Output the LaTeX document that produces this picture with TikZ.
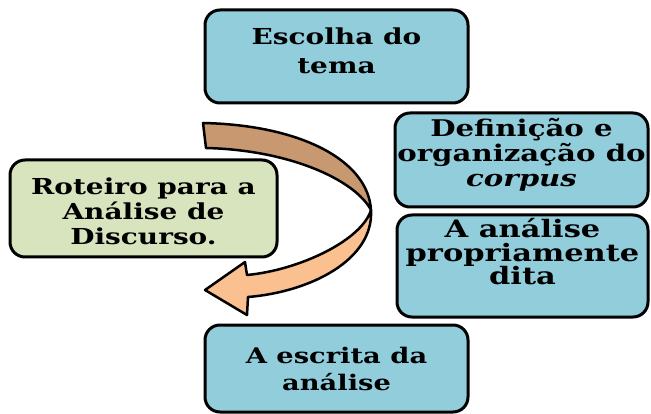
\documentclass[tikz,border=0pt]{standalone}
\usepackage{fontspec}
\setmainfont{DejaVu Serif}[FakeStretch=1.27]
\usetikzlibrary{positioning}
\definecolor{boxblue}{RGB}{146,205,220}
\definecolor{boxgreen}{RGB}{215,228,189}
\definecolor{arrowdark}{RGB}{200,152,112}
\definecolor{arrowlight}{RGB}{250,192,144}
\tikzset{
  box/.style   = {draw=black, line width=3pt, rounded corners=15pt, fill=boxblue, inner sep=0pt},
  gbox/.style  = {box, fill=boxgreen},
  txt/.style   = {align=center, font=\bfseries\fontsize{22}{25}\selectfont, inner sep=0pt},
  band/.style  = {draw=black, line width=2.5pt, line join=round},
}

\begin{document}
\begin{tikzpicture}[x=1pt, y=-1pt]
  \useasboundingbox (0,0) rectangle (651,414);
  % curved arrow
  \filldraw[band, fill=arrowdark] (203,123) .. controls (300,125) and (368,160) .. (371,210)
    .. controls (355,180) and (290,150) .. (206,148) -- cycle;
  \filldraw[band, fill=arrowlight] (371,210) .. controls (374,260) and (310,292) .. (248,297)
    -- (247,315) -- (205,290) -- (245,262) -- (247,275)
    .. controls (300,270) and (362,240) .. (371,210) -- cycle;
  % steps
  \node[box, minimum width=263pt, minimum height=93pt] (tema) at (336.5,56.5) {};
  \node[box, minimum width=253pt, minimum height=94pt] (corpus) at (521.5,160) {};
  \node[box, minimum width=251pt, minimum height=102pt] (analise) at (522.5,266) {};
  \node[box, minimum width=263pt, minimum height=87pt] (escrita) at (336.5,368.5) {};
  \node[gbox, minimum width=267pt, minimum height=97pt] (roteiro) at (143.5,208.5) {};
  % texts
  \node[txt, font=\bfseries\fontsize{22}{29}\selectfont, yshift=6pt] (tema-txt) at (tema.center)
    {Escolha do\\tema};
  \node[txt, font=\bfseries\fontsize{23}{25}\selectfont, yshift=5pt] (corpus-txt) at (corpus.center)
    {Definição e\\organização do\\\textit{corpus}};
  \node[txt, font=\bfseries\fontsize{24}{23.5}\selectfont, yshift=14pt] (analise-txt) at (analise.center)
    {A análise\\propriamente\\dita};
  \node[txt, font=\bfseries\fontsize{21.5}{27}\selectfont] (escrita-txt) at (escrita.center)
    {A escrita da\\análise};
  \node[txt, yshift=-3pt] (roteiro-txt) at (roteiro.center)
    {Roteiro para a\\Análise de\\Discurso.};
\end{tikzpicture}
\end{document}
